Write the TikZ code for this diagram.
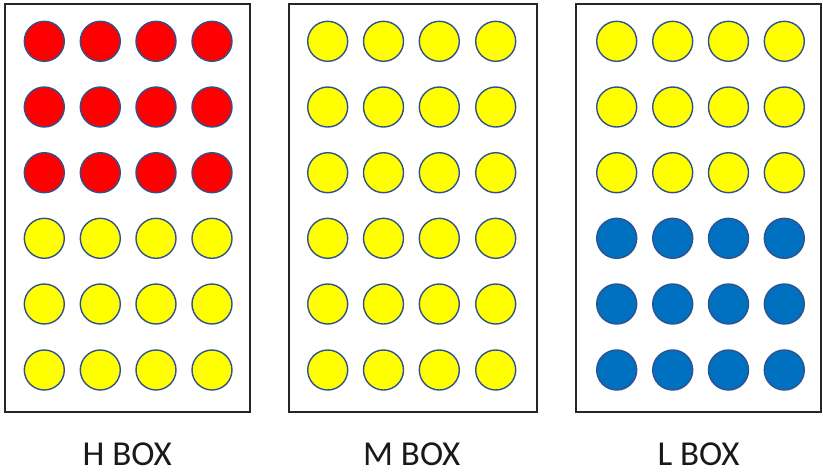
\documentclass[tikz,border=0pt]{standalone}
\usepackage{fontspec}
\setmainfont{Carlito}
\definecolor{dotred}{HTML}{FF0000}
\definecolor{dotyellow}{HTML}{FFFF00}
\definecolor{dotblue}{HTML}{0070C0}
\definecolor{dotedge}{HTML}{2F528F}
\begin{document}
\begin{tikzpicture}[x=1pt,y=-1pt,
  boxframe/.style={draw=black!85,line width=2pt,fill=white},
  dot/.style={circle,draw=dotedge,line width=1.4pt,minimum size=40pt,inner sep=0pt},
  boxlabel/.style={anchor=base,font=\fontsize{35}{38}\selectfont,text=black!90,inner sep=0pt,text depth=0pt,text height=23pt}]
\useasboundingbox (0,0) rectangle (823,472);
% boxes
\draw[boxframe] (4.7,4) rectangle (250,412);
\draw[boxframe] (289.3,4) rectangle (536.7,412);
\draw[boxframe] (576,4) rectangle (821,412);
% H box
\foreach \r [count=\i] in {41.3,107,172.7,238.3,304,370}{
  \foreach \c [count=\j] in {44.3,100.3,156,212}{
    \ifnum\i<4
      \node[dot,fill=dotred] (h\i\j) at (\c,\r) {};
    \else
      \node[dot,fill=dotyellow] (h\i\j) at (\c,\r) {};
    \fi
  }
}
% M box
\foreach \r [count=\i] in {41.3,107,172.7,238.3,304,370}{
  \foreach \c [count=\j] in {327.7,383.5,439.3,495.7}{
    \node[dot,fill=dotyellow] (m\i\j) at (\c,\r) {};
  }
}
% L box
\foreach \r [count=\i] in {41.3,107,172.7,238.3,304,370}{
  \foreach \c [count=\j] in {616.7,672.7,728.5,784.3}{
    \ifnum\i<4
      \node[dot,fill=dotyellow] (l\i\j) at (\c,\r) {};
    \else
      \node[dot,fill=dotblue] (l\i\j) at (\c,\r) {};
    \fi
  }
}
\node[boxlabel] (hlab) at (127.2,465.7) {H BOX};
\node[boxlabel] (mlab) at (411.7,465.7) {M BOX};
\node[boxlabel] (llab) at (698.5,465.7) {L BOX};
\end{tikzpicture}
\end{document}
